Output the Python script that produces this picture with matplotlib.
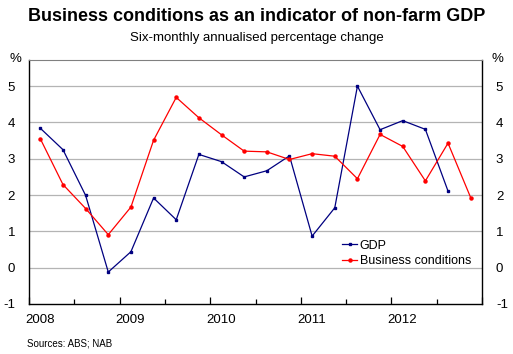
import matplotlib.pyplot as plt
import numpy as np

plt.rcParams['font.family'] = ['Liberation Sans', 'DejaVu Sans']

# quarterly observations, six-monthly annualised % change
gdp = [3.84, 3.25, 1.99, -0.12, 0.44, 1.92, 1.32, 3.12, 2.92, 2.50,
       2.67, 3.08, 0.87, 1.65, 5.00, 3.80, 4.05, 3.81, 2.11]
business = [3.55, 2.29, 1.63, 0.91, 1.67, 3.51, 4.69, 4.13, 3.66, 3.21,
            3.19, 2.98, 3.14, 3.07, 2.45, 3.67, 3.34, 2.39, 3.43, 1.93]
years = [2008, 2009, 2010, 2011, 2012]
yticks = [-1, 0, 1, 2, 3, 4, 5]

# mid-quarter positions starting March quarter 2008
x_gdp = 2008.125 + 0.25 * np.arange(len(gdp))
x_bus = 2008.125 + 0.25 * np.arange(len(business))

fig = plt.figure(figsize=(5.13, 3.54), dpi=100)
ax = fig.add_axes([29 / 513, 50 / 354, 453 / 513, 244 / 354])

ax.plot(x_gdp, gdp, color='#000080', lw=0.9, marker='s', ms=1.6, label='GDP')
ax.plot(x_bus, business, color='#ff0000', lw=0.9, marker='o', ms=2.2, label='Business conditions')

ax.set_xlim(2008, 2013)
ax.set_ylim(-1, 5.72)
for v in range(0, 6):
    ax.axhline(v, color='#b4b4b4', lw=0.9, zorder=0)

ax.set_yticks(yticks)
ax.set_yticklabels([str(v) for v in yticks])
ax.tick_params(axis='y', length=0, labelsize=9.5, pad=10, labelright=True)
ax.set_xticks(years + [2013])
ax.set_xticks(np.arange(2008.5, 2013, 1.0), minor=True)
ax.tick_params(axis='x', which='both', direction='in', labelbottom=False)
ax.tick_params(axis='x', which='major', length=5, width=0.9)
ax.tick_params(axis='x', which='minor', length=3.5, width=0.9)
for yr in years:
    ax.text(yr + 0.12, -1.45, str(yr), ha='center', va='center', fontsize=9.5)

for side in ['left', 'right', 'bottom']:
    ax.spines[side].set_color('black')
    ax.spines[side].set_linewidth(1.0)
ax.spines['top'].set_color('#808080')
ax.spines['top'].set_linewidth(0.8)

leg = ax.legend(loc='lower left', bbox_to_anchor=(0.68, 0.13), frameon=False,
                fontsize=9, handlelength=1.2, handletextpad=0.2, labelspacing=0.3,
                borderaxespad=0)

fig.text(0.5, 0.952, 'Business conditions as an indicator of non-farm GDP',
         ha='center', va='center', fontsize=13, fontweight='bold')
fig.text(0.5, 0.893, 'Six-monthly annualised percentage change',
         ha='center', va='center', fontsize=9.5)
fig.text(15 / 513, 1 - 59 / 354, '%', ha='center', va='center', fontsize=9.5)
fig.text(497 / 513, 1 - 59 / 354, '%', ha='center', va='center', fontsize=9.5)
fig.text(27 / 513, 1 - 343 / 354, 'Sources: ABS; NAB', ha='left', va='center', fontsize=7)

fig.savefig('out.png', dpi=100)
